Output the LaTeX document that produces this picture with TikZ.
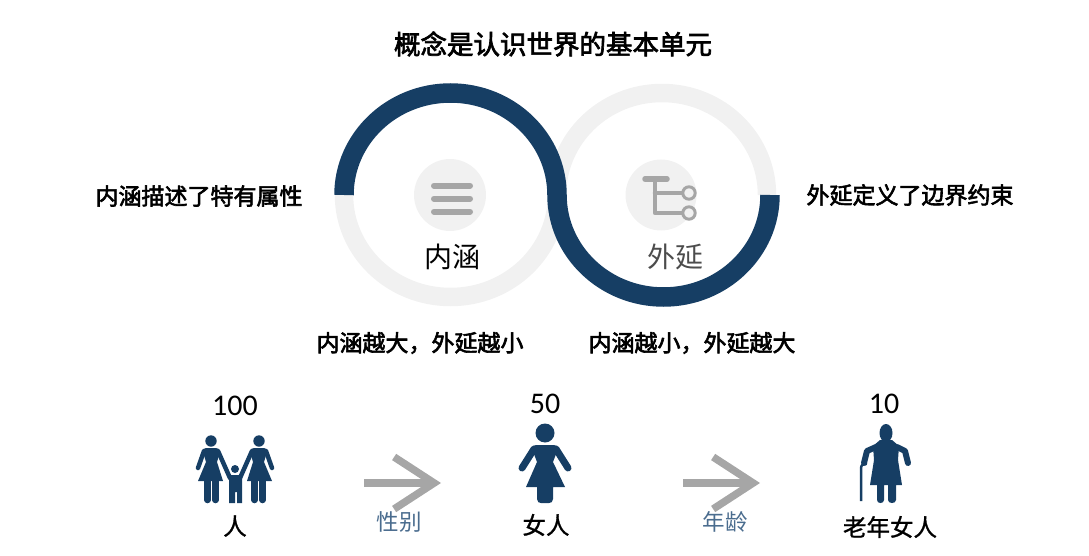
\documentclass[tikz,border=0pt]{standalone}
\usepackage{fontspec}
\setmainfont{Noto Sans CJK SC}
\newfontfamily\numfont{Carlito}
\newfontfamily\heavyfont[FakeBold=2.6]{Noto Sans CJK SC}
\newfontfamily\midfont[FakeBold=1.2]{Noto Sans CJK SC}
\usepackage{xcolor}
\usetikzlibrary{arrows.meta}
\definecolor{navyring}{HTML}{163E64}
\definecolor{paleback}{HTML}{F1F1F1}
\definecolor{iconbar}{HTML}{A6A6A6}
\definecolor{edgetext}{HTML}{4A6C8E}
\begin{document}
\begin{tikzpicture}[x=1pt, y=-1pt,
      ring/.style={line width=18.5pt, line cap=butt},
      title/.style={font=\heavyfont\fontsize{26.5}{30}\selectfont, text=black},
      remark/.style={font=\heavyfont\fontsize{23}{26}\selectfont, text=black},
      concept/.style={font=\fontsize{28}{32}\selectfont},
      count/.style={font=\numfont\fontsize{30}{32}\selectfont, text=black},
      kind/.style={font=\midfont\fontsize{23.5}{26}\selectfont, text=black},
      edgelabel/.style={font=\fontsize{22.5}{25}\selectfont, text=edgetext},
      bar/.style={line width=6pt, line cap=round, draw=iconbar},
      stem/.style={line width=4.5pt, line cap=round, draw=iconbar},
      bigarrow/.style={line width=7.5pt, draw=iconbar, -{Straight Barb[length=40pt, width=52pt, line width=7.5pt, sharp]}},
      figure/.style={fill=navyring, draw=none},
      limb/.style={line width=5pt, line cap=round, line join=round, draw=navyring}]
    \useasboundingbox (0,0) rectangle (1089,556);
    % rings
    \draw[ring, draw=paleback] (344,195) arc[start angle=180, end angle=360, x radius=106.5pt, y radius=102pt];
    \draw[ring, draw=paleback] (557,195) arc[start angle=180, end angle=0, x radius=105pt, y radius=102pt];
    \draw[ring, line width=19.5pt, draw=navyring] (344,195) arc[start angle=180, end angle=0, x radius=106.5pt, y radius=102pt]
      arc[start angle=180, end angle=360, x radius=106.5pt, y radius=102pt];
    % icons
    \fill[paleback] (450,195) circle[radius=36pt];
    \fill[paleback] (661,195) circle[radius=35.5pt];
    \foreach \y in {185.7,198.7,211.7}
      \draw[bar] (434,\y) -- (470,\y);
    \draw[stem, line width=5.5pt] (645,179) -- (667,179);
    \draw[stem, line join=round] (655,179) -- (655,213) -- (683,213);
    \draw[stem] (655,193) -- (683,193);
    \foreach \y in {193,213}
      \draw[draw=iconbar, line width=3pt, fill=paleback] (689,\y) circle[radius=6.2pt];
    % texts
    \node[title] (heading) at (553,44) {概念是认识世界的基本单元};
    \node[remark] (intension) at (199,196) {内涵描述了特有属性};
    \node[remark] (extension) at (910,195) {外延定义了边界约束};
    \node[concept, text=black] (neihan) at (452,257) {内涵};
    \node[concept, text=black!70] (waiyan) at (675,257) {外延};
    \node[remark] (bigger) at (420,343) {内涵越大，外延越小};
    \node[remark] (smaller) at (692,343) {内涵越小，外延越大};
    % counts and kinds
    \node[count] (hundred) at (235,406) {100};
    \node[count] (fifty) at (545,404) {50};
    \node[count] (ten) at (884,404) {10};
    \node[kind] (people) at (235,526) {人};
    \node[kind] (women) at (546,525) {女人};
    \node[kind] (oldwomen) at (890,527) {老年女人};
    % family
    \foreach \m in {1,-1} {
      \begin{scope}[shift={(235,0)}, xscale=\m]
        \fill[figure] (-24,441) circle[radius=5.7pt];
        \fill[figure] (-29,448) -- (-19,448) .. controls (-17,448) and (-16,449) .. (-15,452) -- (-18,462) -- (-12,481) -- (-37,481) -- (-29,462) -- (-32,452) .. controls (-31,449) and (-31,448) .. (-29,448) -- cycle;
        \draw[limb, line width=4.5pt] (-31,451) -- (-37,468);
        \draw[limb, line width=4.5pt] (-17,451) -- (-5,478);
        \draw[limb, line width=6.5pt] (-27.5,481) -- (-27.5,500);
        \draw[limb, line width=6.5pt] (-19.5,481) -- (-19.5,500);
        \draw[limb, line width=3.5pt] (-5,478) -- (-4,480);
      \end{scope}
    }
    \fill[figure] (235,469) circle[radius=4pt];
    \fill[figure] (229,475) -- (242,475) -- (242,503) -- (237,503) -- (237,492) -- (235,492) -- (235,503) -- (229,503) -- cycle;
    % woman
    \fill[figure] (545,433) circle[radius=9.5pt];
    \fill[figure] (536,445) -- (554,445) .. controls (556,445) and (557,446) .. (558,449) -- (553,462) -- (565,487) -- (553,487) -- (553,499) .. controls (553,502) and (551,503) .. (549,503) -- (541,503) .. controls (539,503) and (537,502) .. (537,499) -- (537,487) -- (526,487) -- (537,462) -- (532,449) .. controls (533,446) and (534,445) .. (536,445) -- cycle;
    \draw[limb, line width=7pt] (534,449) -- (522,468);
    \draw[limb, line width=7pt] (556,449) -- (568,468);
    % old woman
    \fill[figure] (886,433) ellipse[x radius=6.5pt, y radius=9pt];
    \fill[figure] (880,440) -- (892,440) -- (899,446) -- (898,460) -- (902,485) -- (896,485) -- (896,500) .. controls (896,504) and (888,504) .. (888,500) -- (888,485) -- (884,485) -- (884,500) .. controls (884,504) and (877,504) .. (877,500) -- (877,485) -- (870,485) -- (874,460) -- (873,446) -- cycle;
    \draw[limb, line width=6pt] (876,447) -- (867,451) -- (864,463);
    \draw[limb, line width=6pt] (897,447) -- (905,451) -- (908,463);
    \draw[limb, line width=2.5pt, line cap=butt] (861,501) -- (861,468) .. controls (861,465) and (864,463) .. (867,464);
    % arrows
    \coordinate (sexfrom) at (364,483);
    \coordinate (sexto) at (441,483);
    \coordinate (agefrom) at (683,483);
    \coordinate (ageto) at (760,483);
    \draw[bigarrow] (sexfrom) -- (sexto);
    \draw[bigarrow] (agefrom) -- (ageto);
    \node[edgelabel] (sexlabel) at (399,522) {性别};
    \node[edgelabel] (agelabel) at (725,522) {年龄};
  \end{tikzpicture}
\end{document}
